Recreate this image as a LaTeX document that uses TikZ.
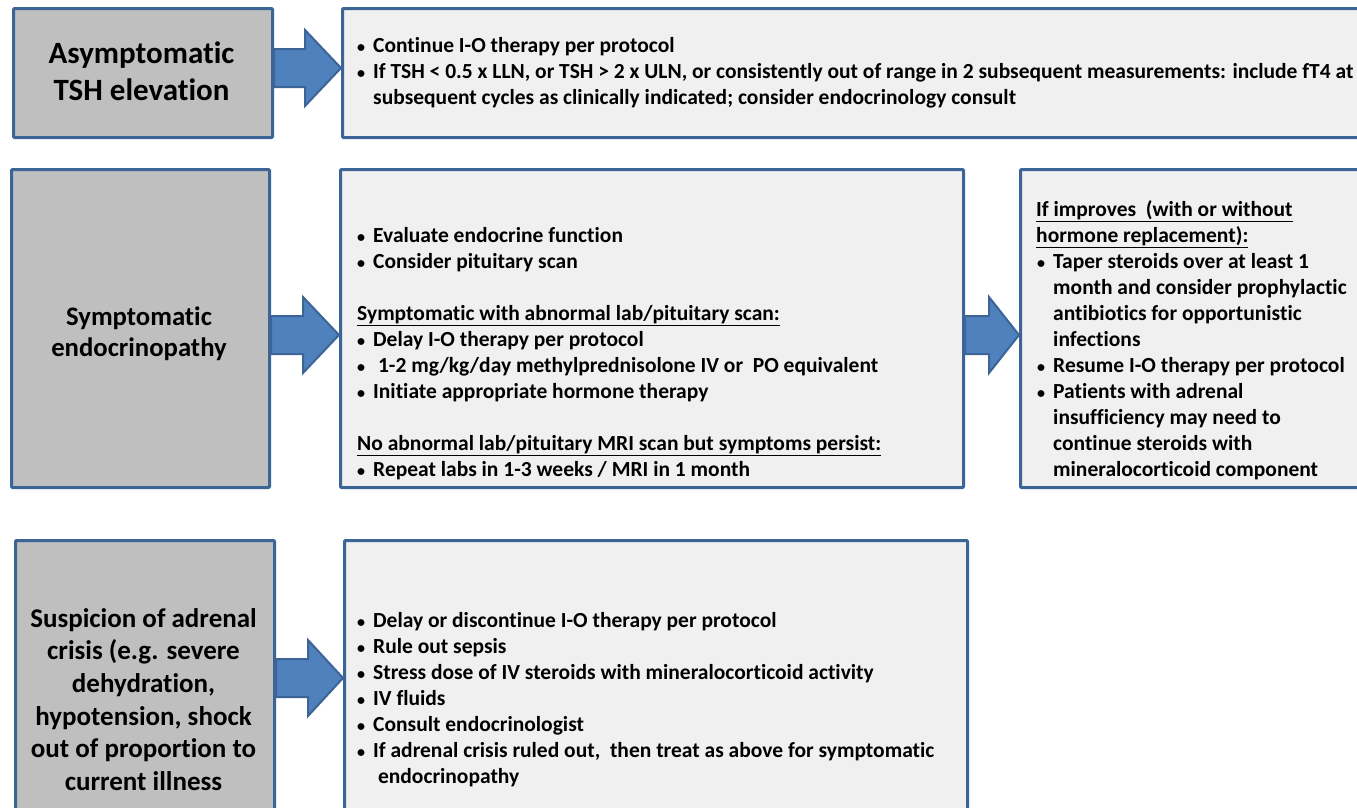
\documentclass[tikz,border=0pt]{standalone}
\usepackage{fontspec}
\setmainfont{Carlito}[Ligatures={NoCommon}]
\usetikzlibrary{calc}
\definecolor{boxblue}{HTML}{3C6496}
\definecolor{titlegray}{HTML}{BFBFBF}
\definecolor{infogray}{HTML}{F0F0F0}
\definecolor{arrowblue}{HTML}{4F81BD}
% bullet item and continuation indent
\newcommand\bl[1]{\makebox[16pt][l]{\fontsize{16}{16}\selectfont\textbullet}#1}
\newcommand\ind{\hspace*{16pt}}
\newcommand\blr[1]{\makebox[17pt][l]{\hspace{1pt}\fontsize{16}{16}\selectfont\textbullet}#1}
\newcommand\indr{\hspace*{17pt}}
% block arrow from the east side of one box to the west side of the next
\newcommand\fatarrow[4]{%
  \draw[fatarrow] let \p1=(#1.east), \p2=(#2.west), \p3=(#3) in
    (\x1,\y3+19pt) -- (\x2-#4pt,\y3+19pt) -- (\x2-#4pt,\y3+38pt) --
    (\x2,\y3) -- (\x2-#4pt,\y3-38pt) -- (\x2-#4pt,\y3-19pt) --
    (\x1,\y3-19pt) -- cycle;}
\begin{document}
\begin{tikzpicture}[x=1pt,y=-1pt,
  frame/.style={draw=boxblue, line width=3pt, rounded corners=1pt, anchor=north west, inner sep=0pt},
  titlebox/.style={frame, fill=titlegray},
  infobox/.style={frame, fill=infogray},
  fatarrow/.style={fill=arrowblue, draw=boxblue, line width=2pt, line join=miter},
  body/.style={anchor=north west, inner sep=0pt, align=left, font=\fontsize{21.5}{26}\selectfont\bfseries},
  title/.style={inner sep=0pt, align=center, font=\bfseries}]
\clip (0,0) rectangle (1357,807);
\fill[white] (0,0) rectangle (1357,807);

% arrow levels
\coordinate (ya) at (0,68);
\coordinate (yb) at (0,335);
\coordinate (yc) at (0,678);

% row 1
\node[titlebox, minimum width=259pt, minimum height=129pt] (a) at (12,7) {};
\node[infobox, minimum width=1030pt, minimum height=129pt] (a1) at (341,7) {};
% row 2
\node[titlebox, minimum width=258pt, minimum height=318pt] (b) at (10,168) {};
\node[infobox, minimum width=623pt, minimum height=318pt] (b1) at (339,168) {};
\node[infobox, minimum width=360pt, minimum height=318pt] (b2) at (1019,168) {};
% row 3
\node[titlebox, minimum width=259pt, minimum height=330pt] (c) at (14,539) {};
\node[infobox, minimum width=623pt, minimum height=330pt] (c1) at (343,539) {};

\fatarrow{a}{a1}{ya}{36}
\fatarrow{b}{b1}{yb}{36}
\fatarrow{b1}{b2}{yb}{30}
\fatarrow{c}{c1}{yc}{35}

% titles
\node[title, font=\fontsize{31}{37}\selectfont\bfseries] (ta) at (141.5,71.5)
  {Asymptomatic\\TSH elevation};
\node[title, font=\fontsize{26.7}{31.5}\selectfont\bfseries] (tb) at (139,333.5)
  {Symptomatic\\endocrinopathy};
\node[title, font=\fontsize{27}{32.6}\selectfont\bfseries] (tc) at (143.5,699.5)
  {Suspicion of adrenal\\crisis (e.g. severe\\dehydration,\\hypotension, shock\\out of proportion to\\current illness};

% texts
\node[body] (xa) at (357,33.8) {\strut\bl{Continue I-O therapy per protocol}\\
  \bl{If TSH < 0.5 x LLN, or TSH > 2 x ULN, or consistently out of range in 2 subsequent measurements: include fT4 at}\\
  \ind subsequent cycles as clinically indicated; consider endocrinology consult};

\node[body] (xb) at (357,223.8) {\strut\bl{Evaluate endocrine function}\\
  \bl{Consider pituitary scan}\\[26pt]
  \underline{Symptomatic with abnormal lab/pituitary scan:}\\
  \bl{Delay I-O therapy per protocol}\\
  \bl{\ 1-2 mg/kg/day methylprednisolone IV or\ \ PO equivalent}\\
  \bl{Initiate appropriate hormone therapy}\\[26pt]
  \underline{No abnormal lab/pituitary MRI scan but symptoms persist:}\\
  \bl{Repeat labs in 1-3 weeks / MRI in 1 month}};

\node[body] (xr) at (1036,197.8) {\strut\underline{If improves\ \ (with or without}\\
  \underline{hormone replacement):}\\
  \blr{Taper steroids over at least 1}\\
  \indr month and consider prophylactic\\
  \indr antibiotics for opportunistic\\
  \indr infections\\
  \blr{Resume I-O therapy per protocol}\\
  \blr{Patients with adrenal}\\
  \indr insufficiency may need to\\
  \indr continue steroids with\\
  \indr mineralocorticoid component};

\node[body] (xc) at (357,608.8) {\strut\bl{Delay or discontinue I-O therapy per protocol}\\
  \bl{Rule out sepsis}\\
  \bl{Stress dose of IV steroids with mineralocorticoid activity}\\
  \bl{IV fluids}\\
  \bl{Consult endocrinologist}\\
  \bl{If adrenal crisis ruled out,\ \ then treat as above for symptomatic}\\
  \ind\ endocrinopathy};
\end{tikzpicture}
\end{document}
